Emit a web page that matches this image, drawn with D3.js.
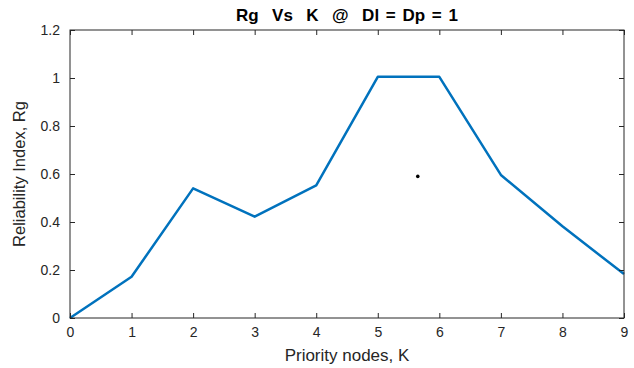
<!DOCTYPE html>
<html>
<head>
<meta charset="utf-8">
<script src="https://cdn.jsdelivr.net/npm/d3@7"></script>
<style>
  html, body { margin: 0; padding: 0; background: #fff; }
  svg { display: block; font-family: "Liberation Sans", Arial, sans-serif; }
</style>
</head>
<body>
<svg id="chart" width="634" height="368"></svg>
<script>
// data
const kValues = [0, 1, 2, 3, 4, 5, 6, 7, 8, 9];
const rgValues = [0, 0.172, 0.54, 0.422, 0.553, 1.005, 1.005, 0.596, 0.382, 0.183];
const strayPoint = [5.65, 0.59];
const xTicks = [0, 1, 2, 3, 4, 5, 6, 7, 8, 9];
const yTicks = [0, 0.2, 0.4, 0.6, 0.8, 1, 1.2];

const margin = {top: 30, right: 10, bottom: 50, left: 70};
const width = 634, height = 368;
const axisColor = '#262626';

const svg = d3.select('#chart');

const x = d3.scaleLinear().domain([0, 9]).range([margin.left, width - margin.right]);
const y = d3.scaleLinear().domain([0, 1.2]).range([height - margin.bottom, margin.top]);

// line
const line = d3.line()
  .x((d, i) => x(kValues[i]))
  .y(d => y(d));

svg.append('path')
  .datum(rgValues)
  .attr('fill', 'none')
  .attr('stroke', '#0072BD')
  .attr('stroke-width', 2.5)
  .attr('stroke-linejoin', 'round')
  .attr('d', line);

svg.append('circle')
  .attr('cx', x(strayPoint[0]))
  .attr('cy', y(strayPoint[1]))
  .attr('r', 1.8)
  .attr('fill', '#000');

// axes (inward ticks, box on)
const styleAxis = g => {
  g.selectAll('.domain').remove();
  g.selectAll('line').attr('stroke', axisColor).attr('stroke-width', 1);
  g.selectAll('text').attr('fill', axisColor).attr('font-size', 14)
    .attr('font-family', '"Liberation Sans", Arial, sans-serif');
};

svg.append('g')
  .attr('transform', `translate(0,${y(0)})`)
  .call(d3.axisBottom(x).tickValues(xTicks).tickFormat(d3.format('d')).tickSizeInner(-5).tickSizeOuter(0).tickPadding(9))
  .call(styleAxis);

svg.append('g')
  .attr('transform', `translate(0,${y(1.2)})`)
  .call(d3.axisTop(x).tickValues(xTicks).tickFormat('').tickSizeInner(-5).tickSizeOuter(0))
  .call(styleAxis);

svg.append('g')
  .attr('transform', `translate(${x(0)},0)`)
  .call(d3.axisLeft(y).tickValues(yTicks).tickFormat(d => d3.format('')(+d.toFixed(1))).tickSizeInner(-5).tickSizeOuter(0).tickPadding(10))
  .call(styleAxis);

svg.append('g')
  .attr('transform', `translate(${x(9)},0)`)
  .call(d3.axisRight(y).tickValues(yTicks).tickFormat('').tickSizeInner(-5).tickSizeOuter(0))
  .call(styleAxis);

// frame
svg.append('rect')
  .attr('x', x(0))
  .attr('y', y(1.2))
  .attr('width', x(9) - x(0))
  .attr('height', y(0) - y(1.2))
  .attr('fill', 'none')
  .attr('stroke', axisColor)
  .attr('stroke-width', 1);

// title and labels
svg.append('text')
  .attr('x', (x(0) + x(9)) / 2)
  .attr('y', 21)
  .attr('text-anchor', 'middle')
  .attr('font-size', 17)
  .attr('font-weight', 'bold')
  .attr('fill', '#000')
  .style('white-space', 'pre')
  .style('word-spacing', '2px')
  .text('Rg  Vs  K  @  Dl = Dp = 1');

svg.append('text')
  .attr('x', (x(0) + x(9)) / 2)
  .attr('y', 361)
  .attr('text-anchor', 'middle')
  .attr('font-size', 17)
  .attr('fill', axisColor)
  .text('Priority nodes, K');

svg.append('text')
  .attr('transform', `translate(25,${(y(0) + y(1.2)) / 2}) rotate(-90)`)
  .attr('text-anchor', 'middle')
  .attr('font-size', 16.5)
  .attr('fill', axisColor)
  .text('Reliability Index, Rg');
</script>
</body>
</html>
